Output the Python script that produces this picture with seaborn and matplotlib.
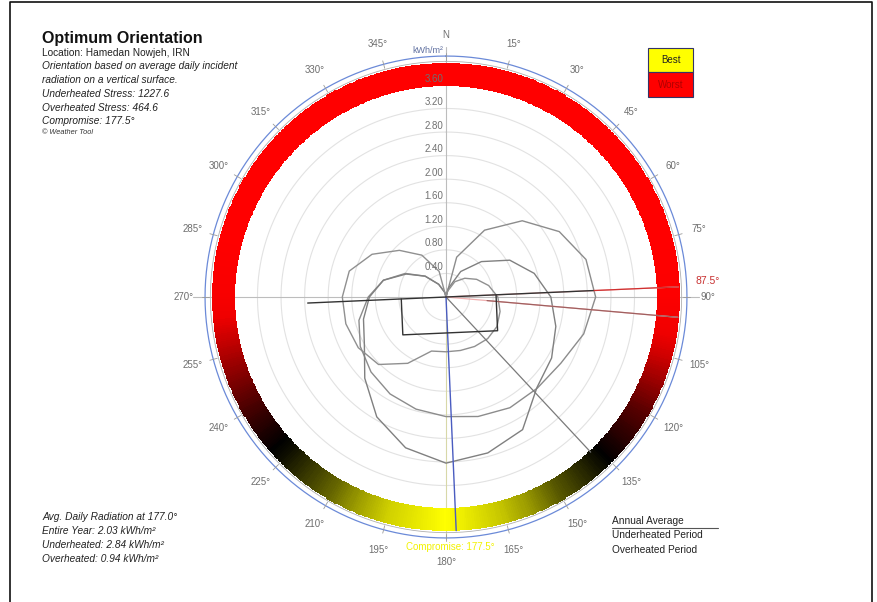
import numpy as np
import pandas as pd
import matplotlib
matplotlib.use("Agg")
import matplotlib.pyplot as plt
import seaborn as sns
from matplotlib.colors import LinearSegmentedColormap
from matplotlib.patches import Rectangle
from matplotlib.lines import Line2D

# ---------------- data ----------------
angles_deg = [0, 15, 30, 45, 60, 75, 90, 105, 120, 135, 150, 165,
              180, 195, 210, 225, 240, 255, 270, 285, 300, 315, 330, 345]
annual = [0.00, 0.70, 1.31, 1.83, 2.22, 2.46, 2.54, 2.42, 2.25, 2.19, 2.17, 2.10,
          2.03, 1.97, 1.90, 1.80, 1.68, 1.53, 1.32, 1.10, 0.80, 0.50, 0.25, 0.08]
underheated = [0.00, 0.15, 0.50, 0.85, 1.25, 1.55, 1.78, 1.93, 2.07, 2.18, 2.60, 2.74,
               2.82, 2.65, 2.35, 1.95, 1.60, 1.45, 1.30, 1.10, 0.78, 0.50, 0.25, 0.08]
overheated = [0.00, 0.10, 0.30, 0.45, 0.60, 0.75, 0.88, 0.95, 1.00, 1.00, 0.97, 0.94,
              0.93, 0.95, 1.30, 1.62, 1.72, 1.76, 1.76, 1.70, 1.45, 1.12, 0.82, 0.45]
ring_score = [0, 0, 0, 0, 0, 0, 0.02, 0.15, 0.32, 0.45, 0.62, 0.85,
              1.0, 0.88, 0.65, 0.48, 0.35, 0.20, 0.05, 0, 0, 0, 0, 0]
radial_ticks = [0.4, 0.8, 1.2, 1.6, 2.0, 2.4, 2.8, 3.2, 3.6]
radial_labels = ["0.40", "0.80", "1.20", "1.60", "2.00", "2.40", "2.80", "3.20", "3.60"]
compass_labels = ["N"] + [f"{a}°" for a in angles_deg[1:]]
compromise_deg = 177.5
best_line_deg = 87.5
overheat_line_deg = 95.0
diag_line_deg = 137.0
bld_u = [-0.76, 0.85]   # building extent along facade (kWh scale units)
bld_depth = 0.61

# ---------------- figure ----------------
sns.set_theme(style="white")
plt.rcParams['font.family'] = ['Liberation Sans', 'DejaVu Sans']

W, H = 877, 602
fig = plt.figure(figsize=(W / 100, H / 100), dpi=100)
fig.patch.set_facecolor("white")
cx, cy = 446, 297
R_ax = 271
rmax = 4.6
ax = fig.add_axes([(cx - R_ax) / W, (H - cy - R_ax) / H, 2 * R_ax / W, 2 * R_ax / H],
                  projection='polar')
ax.set_theta_zero_location('N')
ax.set_theta_direction(-1)
ax.set_ylim(0, rmax)
ax.axis('off')

tf = np.linspace(0, 2 * np.pi, 721)

# grid circles
for r in radial_ticks:
    ax.plot(tf, np.full_like(tf, r), color='#e2e2e2', lw=0.8, zorder=1)

# colour ring
cmap = LinearSegmentedColormap.from_list(
    'ring', [(0, '#ff0000'), (0.1, '#f00000'), (0.45, '#000000'), (0.75, '#9a9a00'), (1.0, '#ffff00')])
deg_f = np.degrees(tf)
score_f = np.interp(deg_f, angles_deg + [360], ring_score + [ring_score[0]])
T, Rm = np.meshgrid(tf, [3.58, 3.97])
ax.pcolormesh(T, Rm, score_f[:-1][None, :], cmap=cmap, vmin=0, vmax=1,
              shading='flat', zorder=2)
ax.plot(tf, np.full_like(tf, 4.0), color='#b0b0b0', lw=0.6, zorder=2)
ax.plot(tf, np.full_like(tf, 4.09), color='#6b8ad8', lw=0.9, zorder=2)

# axes lines
ax.plot([0, 0], [4.25, 0], color='#bdbdbd', lw=0.8, zorder=1)
ax.plot([np.pi, np.pi], [0, 4.1], color='#d8d8a8', lw=0.8, zorder=1)
ax.plot([np.pi / 2, np.pi / 2], [0, 4.3], color='#bdbdbd', lw=0.8, zorder=1)
ax.plot([3 * np.pi / 2, 3 * np.pi / 2], [0, 4.3], color='#bdbdbd', lw=0.8, zorder=1)

# ticks on outer circle
for a in angles_deg:
    ax.plot([np.radians(a)] * 2, [4.02, 4.15], color='#9a9a9a', lw=0.6, zorder=2)

# curves
rows = []
for name, vals in [("Annual Average", annual), ("Underheated Period", underheated),
                   ("Overheated Period", overheated)]:
    for a, v in zip(angles_deg + [360], vals + [vals[0]]):
        rows.append({"theta": np.radians(a), "r": v, "series": name})
df = pd.DataFrame(rows)
sns.lineplot(data=df, x="theta", y="r", hue="series", sort=False, estimator=None,
             palette={"Annual Average": "#8c8c8c", "Underheated Period": "#808080",
                      "Overheated Period": "#909090"},
             legend=False, lw=1.0, ax=ax, zorder=4)

# orientation lines
def pol(e, n):
    return np.arctan2(e, n), np.hypot(e, n)

ax.plot([np.radians(best_line_deg)] * 2, [0, 3.95], color='#f0a8a8', lw=0.9, zorder=5)
ax.plot([np.radians(best_line_deg)] * 2, [2.5, 3.95], color='#d03030', lw=0.9, zorder=5)
ax.plot([np.radians(overheat_line_deg)] * 2, [0, 3.95], color='#f0b0b0', lw=0.9, zorder=5)
ax.plot([np.radians(overheat_line_deg)] * 2, [0.7, 3.95], color='#a06060', lw=0.9, zorder=5)
ax.plot([np.radians(diag_line_deg)] * 2, [0, 3.6], color='#7a7a7a', lw=0.9, zorder=5)
ax.plot([np.radians(compromise_deg)] * 2, [0, 3.97], color='#4a5cc0', lw=1.0, zorder=5)
ax.plot([np.radians(best_line_deg + 180), np.radians(best_line_deg)], [2.35, 2.5],
        color='#333333', lw=1.0, zorder=6)

# building outline rotated to compromise orientation
bu, bv = np.radians(best_line_deg), np.radians(compromise_deg)
pts_local = [(bld_u[0], 0), (bld_u[0], bld_depth), (bld_u[1], bld_depth), (bld_u[1], 0)]
th, rr = [], []
for u, v in pts_local:
    e = u * np.sin(bu) + v * np.sin(bv)
    n = u * np.cos(bu) + v * np.cos(bv)
    t, r = pol(e, n)
    th.append(t); rr.append(r)
ax.plot(th, rr, color='#333333', lw=1.0, zorder=6)

# compass labels
for a, lab in zip(angles_deg, compass_labels):
    rl = 4.5 if a == 180 else 4.45
    ax.text(np.radians(a), rl, lab, ha='center', va='center', fontsize=7,
            color='#6e6e6e', zorder=7)
ax.text(np.radians(86.6), 4.45, "87.5°", ha='center', va='center', fontsize=7.5,
        color='#c83030', zorder=7)
ax.text(np.radians(179.0), 4.24, "Compromise: 177.5°", ha='center', va='center',
        fontsize=7, color='#f2f200', zorder=8)

# radial labels
for r, lab in zip(radial_ticks, radial_labels):
    ax.annotate(lab, xy=(0, r), xytext=(-2, 1), textcoords='offset points',
                ha='right', va='bottom', fontsize=7, color='#707070', zorder=7)
ax.annotate("kWh/m²", xy=(0, 4.09), xytext=(-2, 1), textcoords='offset points',
            ha='right', va='bottom', fontsize=6.5, color='#6070a0', zorder=7)

# ---------------- texts ----------------
def ftext(x, y, s, **kw):
    fig.text(x / W, 1 - y / H, s, va='center', ha='left', **kw)

ftext(42, 38, "Optimum Orientation", fontsize=11.5, fontweight='bold', color='#111111')
ftext(42, 53, "Location: Hamedan Nowjeh, IRN", fontsize=7.3, color='#222222')
ftext(42, 66, "Orientation based on average daily incident", fontsize=7.3, style='italic', color='#222222')
ftext(42, 80, "radiation on a vertical surface.", fontsize=7.3, style='italic', color='#222222')
ftext(42, 94, "Underheated Stress: 1227.6", fontsize=7.3, style='italic', color='#222222')
ftext(42, 108, "Overheated Stress: 464.6", fontsize=7.3, style='italic', color='#222222')
ftext(42, 121, "Compromise: 177.5°", fontsize=7.3, style='italic', color='#222222')
ftext(42, 133, "© Weather Tool", fontsize=5.3, style='italic', color='#333333')

ftext(42, 517, "Avg. Daily Radiation at 177.0°", fontsize=7.3, style='italic', color='#222222')
ftext(42, 531, "Entire Year: 2.03 kWh/m²", fontsize=7.3, style='italic', color='#222222')
ftext(42, 545, "Underheated: 2.84 kWh/m²", fontsize=7.3, style='italic', color='#222222')
ftext(42, 559, "Overheated: 0.94 kWh/m²", fontsize=7.3, style='italic', color='#222222')

ftext(612, 521, "Annual Average", fontsize=7.3, color='#222222')
ftext(612, 535, "Underheated Period", fontsize=7.3, color='#222222')
ftext(612, 550, "Overheated Period", fontsize=7.3, color='#222222')
fig.add_artist(Line2D([612 / W, 718 / W], [1 - 528 / H, 1 - 528 / H], color='#555555', lw=0.8))

# best / worst key
fig.add_artist(Rectangle((648 / W, 1 - 72 / H), 45 / W, 24 / H, facecolor='#ffff00',
                         edgecolor='#333366', lw=0.8))
fig.add_artist(Rectangle((648 / W, 1 - 97 / H), 45 / W, 25 / H, facecolor='#ff0000',
                         edgecolor='#333366', lw=0.8))
fig.text(670.5 / W, 1 - 60 / H, "Best", ha='center', va='center', fontsize=7, color='#222222')
fig.text(670.5 / W, 1 - 85 / H, "Worst", ha='center', va='center', fontsize=7, color='#b00000')

# outer frame
fig.add_artist(Line2D([10 / W, 10 / W, 872 / W, 872 / W], [0, 1 - 2 / H, 1 - 2 / H, 0],
                      color='#111111', lw=1.2))

fig.savefig("out.png", dpi=100, facecolor='white')
